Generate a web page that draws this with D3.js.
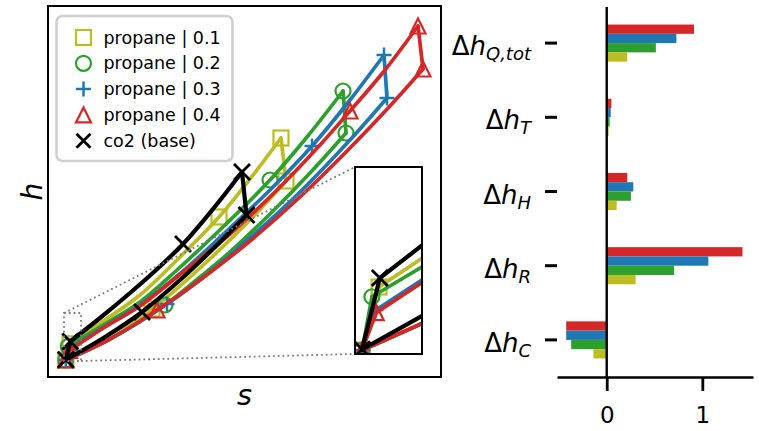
<!DOCTYPE html>
<html><head><meta charset="utf-8">
<script src="https://cdn.jsdelivr.net/npm/d3@7"></script>
<style>html,body{margin:0;padding:0;background:#fff;} svg{display:block;font-family:"DejaVu Sans",sans-serif;}</style>
</head><body><svg id="c" width="759" height="431"></svg>
<script>
// ---------- data: h-s cycles (arbitrary units), [s, h, markerFlag] ----------
const seriesNames = ["propane | 0.1", "propane | 0.2", "propane | 0.3", "propane | 0.4", "co2 (base)"];
const seriesColors = ["#bcbd22", "#2ca02c", "#1f77b4", "#d62728", "#000000"];
const seriesMarkers = ["square", "circle", "plus", "triangle", "x"];

const heatYellow = [[22.1,33.2,1],[57,57,0],[92,82,0],[132,120,0],[171,160,1],[202,198,0],[233,239,1]];
const coolYellow = [[238,196,1],[202,157,0],[152,109,0],[104,68,1],[57,39.5,0],[17.8,17,1]];
const heatGreen = [[20.3,30.7,1],[57,53,0],[92,75,0],[129,107,0],[177,152,0],[222,197,1],[259,240,0],[295,286,1]];
const coolGreen = [[298,244,1],[262,204,0],[222,163,0],[182,125,0],[152,100,0],[117,72,1],[62,38,0],[17.8,17,1]];
const heatBlue = [[21.3,27.3,1],[57,50.6,0],[92,72,0],[134,105,0],[182,149,0],[222,187,0],[264,231,1],[302,277,0],[336,322,1]];
const coolBlue = [[339,279,1],[302,237,0],[252,185,0],[202,139,0],[162,105,0],[119,73,1],[62,38,0],[17.8,17,1]];
const heatRed = [[21.4,26.6,1],[57,50,0],[92,71,0],[135,105,0],[182,143,0],[232,190,0],[272,232,0],[302,266,1],[337,307,0],[370,351,1]];
const coolRed = [[375,308,1],[342,271,0],[302,229,0],[252,180,0],[202,136,0],[152,97,0],[109,67,1],[62,38,0],[17.8,17,1]];
const heatBlack = [[22.3,35.5,1],[52,59,0],[82,84,0],[107,106,0],[135,133,1],[165,168,0],[194,205,1]];
const coolBlack = [[198.5,162,1],[165,128,0],[132,97,0],[94,65,1],[57,40,0],[17.8,17.2,1]];

const sDomain = [0, 393];
const hDomain = [0, 371];
const zoomS = [16, 33];
const zoomH = [16, 64];

// ---------- data: bar chart ----------
const barCategories = ["Q,tot", "T", "H", "R", "C"];
const barValues01 = [0.215, 0.02, 0.104, 0.302, -0.139];
const barValues02 = [0.514, 0.031, 0.253, 0.705, -0.372];
const barValues03 = [0.729, 0.042, 0.278, 1.063, -0.424];
const barValues04 = [0.913, 0.049, 0.215, 1.42, -0.424];
const barTicks = [0, 1];
const barDomain = [-0.52, 1.53];

// ---------- build ----------
const series = [
  {name: seriesNames[0], color: seriesColors[0], marker: seriesMarkers[0], heat: heatYellow, cool: coolYellow, lw: 3.7},
  {name: seriesNames[1], color: seriesColors[1], marker: seriesMarkers[1], heat: heatGreen, cool: coolGreen, lw: 3.7},
  {name: seriesNames[2], color: seriesColors[2], marker: seriesMarkers[2], heat: heatBlue, cool: coolBlue, lw: 3.7},
  {name: seriesNames[3], color: seriesColors[3], marker: seriesMarkers[3], heat: heatRed, cool: coolRed, lw: 3.7},
  {name: seriesNames[4], color: seriesColors[4], marker: seriesMarkers[4], heat: heatBlack, cool: coolBlack, lw: 4.2}
];

const svg = d3.select("#c");
const M = {l: 48, r: 441, t: 6, b: 377};
const IN = {l: 355, r: 422, t: 167, b: 354};

const xMain = d3.scaleLinear().domain(sDomain).range([M.l, M.r]);
const yMain = d3.scaleLinear().domain(hDomain).range([M.b, M.t]);
const xIn = d3.scaleLinear().domain(zoomS).range([IN.l, IN.r]);
const yIn = d3.scaleLinear().domain(zoomH).range([IN.b, IN.t]);

const defs = svg.append("defs");
defs.append("clipPath").attr("id", "clipMain").append("rect")
  .attr("x", M.l).attr("y", M.t).attr("width", M.r - M.l).attr("height", M.b - M.t);
defs.append("clipPath").attr("id", "clipIn").append("rect")
  .attr("x", IN.l).attr("y", IN.t).attr("width", IN.r - IN.l).attr("height", IN.b - IN.t);

function drawMarker(g, type, cx, cy, color, size) {
  const r = size / 2;
  if (type === "square") {
    g.append("rect").attr("x", cx - r).attr("y", cy - r).attr("width", size).attr("height", size)
      .attr("fill", "none").attr("stroke", color).attr("stroke-width", 2.2);
  } else if (type === "circle") {
    g.append("circle").attr("cx", cx).attr("cy", cy).attr("r", r)
      .attr("fill", "none").attr("stroke", color).attr("stroke-width", 2.2);
  } else if (type === "triangle") {
    g.append("path").attr("d", `M${cx},${cy - r}L${cx - r},${cy + r}L${cx + r},${cy + r}Z`)
      .attr("fill", "none").attr("stroke", color).attr("stroke-width", 2.2).attr("stroke-linejoin", "miter");
  } else if (type === "plus") {
    g.append("path").attr("d", `M${cx - r},${cy}H${cx + r}M${cx},${cy - r}V${cy + r}`)
      .attr("fill", "none").attr("stroke", color).attr("stroke-width", 2.5);
  } else if (type === "x") {
    g.append("path").attr("d", `M${cx - r},${cy - r}L${cx + r},${cy + r}M${cx + r},${cy - r}L${cx - r},${cy + r}`)
      .attr("fill", "none").attr("stroke", color).attr("stroke-width", 2.8);
  }
}

function drawCycles(g, xs, ys) {
  const lg = d3.line().x(d => xs(d[0])).y(d => ys(d[1])).curve(d3.curveCatmullRom.alpha(0.5));
  series.forEach(sr => {
    const gg = g.append("g");
    const segs = [
      sr.heat,
      sr.cool,
      [sr.cool[sr.cool.length - 1], sr.heat[0]],
      [sr.heat[sr.heat.length - 1], sr.cool[0]]
    ];
    segs.forEach(p => gg.append("path").attr("d", lg(p)).attr("fill", "none")
      .attr("stroke", sr.color).attr("stroke-width", sr.lw)
      .attr("stroke-linejoin", "round").attr("stroke-linecap", "round"));
    sr.heat.concat(sr.cool).filter(d => d[2] === 1).forEach(d =>
      drawMarker(gg, sr.marker, xs(d[0]), ys(d[1]), sr.color, sr.marker === "x" ? 16 : 15));
  });
}

// main axes background
svg.append("rect").attr("x", M.l).attr("y", M.t).attr("width", M.r - M.l).attr("height", M.b - M.t).attr("fill", "#fff");
const gMain = svg.append("g").attr("clip-path", "url(#clipMain)");
drawCycles(gMain, xMain, yMain);

// zoom indicator (dotted)
const dot = {stroke: "#7a7a7a", w: 1.8, dash: "1.8,3"};
const zx0 = xMain(zoomS[0]), zx1 = xMain(zoomS[1]), zy0 = yMain(zoomH[1]), zy1 = yMain(zoomH[0]);
const gInd = svg.append("g").attr("fill", "none").attr("stroke", dot.stroke)
  .attr("stroke-width", dot.w).attr("stroke-dasharray", dot.dash);
gInd.append("rect").attr("x", zx0).attr("y", zy0).attr("width", zx1 - zx0).attr("height", zy1 - zy0);
gInd.append("line").attr("x1", zx0).attr("y1", zy0).attr("x2", IN.l).attr("y2", IN.t);
gInd.append("line").attr("x1", zx1).attr("y1", zy1).attr("x2", IN.l).attr("y2", IN.b);

// inset
svg.append("rect").attr("x", IN.l).attr("y", IN.t).attr("width", IN.r - IN.l).attr("height", IN.b - IN.t).attr("fill", "#fff");
const gIn = svg.append("g").attr("clip-path", "url(#clipIn)");
drawCycles(gIn, xIn, yIn);
svg.append("rect").attr("x", IN.l).attr("y", IN.t).attr("width", IN.r - IN.l).attr("height", IN.b - IN.t)
  .attr("fill", "none").attr("stroke", "#000").attr("stroke-width", 2);

// legend
const leg = svg.append("g");
leg.append("rect").attr("x", 56.5).attr("y", 16).attr("width", 176).attr("height", 145).attr("rx", 6)
  .attr("fill", "#fff").attr("fill-opacity", 0.85).attr("stroke", "#d0d0d0").attr("stroke-width", 2.6);
series.forEach((sr, i) => {
  const ry = 37.5 + i * 25.8;
  drawMarker(leg, sr.marker, 83.5, ry, sr.color, sr.marker === "x" ? 14 : 15);
  leg.append("text").attr("x", 103.5).attr("y", ry + 6).attr("font-size", 17.5).attr("fill", "#000").text(sr.name);
});

// frame
svg.append("rect").attr("x", M.l).attr("y", M.t).attr("width", M.r - M.l).attr("height", M.b - M.t)
  .attr("fill", "none").attr("stroke", "#000").attr("stroke-width", 2);

// axis labels
svg.append("text").attr("x", (M.l + M.r) / 2).attr("y", 405).attr("text-anchor", "middle")
  .attr("font-size", 29).attr("font-style", "italic").text("s");
svg.append("text").attr("transform", `translate(41.5,${(M.t + M.b) / 2}) rotate(-90)`).attr("text-anchor", "middle")
  .attr("font-size", 28).attr("font-style", "italic").text("h");

// ---------- bar chart ----------
const B = {l: 557, r: 753, t: 6, b: 377};
const xBar = d3.scaleLinear().domain(barDomain).range([B.l, B.r]);
const yBar = d3.scaleBand().domain(barCategories).range([B.t, B.b]).padding(0);
const barSets = [
  {key: "0.4", vals: barValues04, color: seriesColors[3]},
  {key: "0.3", vals: barValues03, color: seriesColors[2]},
  {key: "0.2", vals: barValues02, color: seriesColors[1]},
  {key: "0.1", vals: barValues01, color: seriesColors[0]}
];
const bw = yBar.bandwidth();
const yInner = d3.scaleBand().domain(barSets.map(d => d.key)).range([bw * 0.25, bw * 0.75]).padding(0);

const gBars = svg.append("g");
barSets.forEach(bs => {
  gBars.selectAll(null).data(barCategories).enter().append("rect")
    .attr("x", (c, i) => xBar(Math.min(0, bs.vals[i])))
    .attr("width", (c, i) => Math.abs(xBar(bs.vals[i]) - xBar(0)))
    .attr("y", c => yBar(c) + yInner(bs.key))
    .attr("height", yInner.bandwidth())
    .attr("fill", bs.color);
});

// zero line
svg.append("line").attr("x1", xBar(0)).attr("x2", xBar(0)).attr("y1", 7).attr("y2", B.b)
  .attr("stroke", "#000").attr("stroke-width", 2.4);

// bottom axis
const gx = svg.append("g").attr("transform", `translate(0,${B.b})`)
  .call(d3.axisBottom(xBar).tickValues(barTicks).tickSize(14).tickSizeOuter(0).tickPadding(16).tickFormat(d3.format("d")));
gx.select(".domain").attr("stroke-width", 2.5);
gx.selectAll(".tick line").attr("stroke-width", 2.8);
gx.selectAll(".tick text").attr("font-size", 23).attr("font-family", "DejaVu Sans");

// left axis (ticks only) + math labels
const gy = svg.append("g").attr("transform", `translate(${B.l},0)`)
  .call(d3.axisLeft(yBar).tickSize(12).tickFormat(""));
gy.select(".domain").remove();
gy.selectAll(".tick line").attr("stroke-width", 3);
gy.selectAll(".tick").each(function(c) {
  const t = d3.select(this).append("text").attr("x", -26).attr("y", 12)
    .attr("text-anchor", "end").attr("fill", "#000").attr("font-size", 26).attr("font-family", "DejaVu Sans");
  t.append("tspan").text("Δ");
  t.append("tspan").attr("font-style", "italic").text("h");
  t.append("tspan").attr("font-style", "italic").attr("font-size", 18).attr("dy", 5).text(c);
});
</script></body></html>
